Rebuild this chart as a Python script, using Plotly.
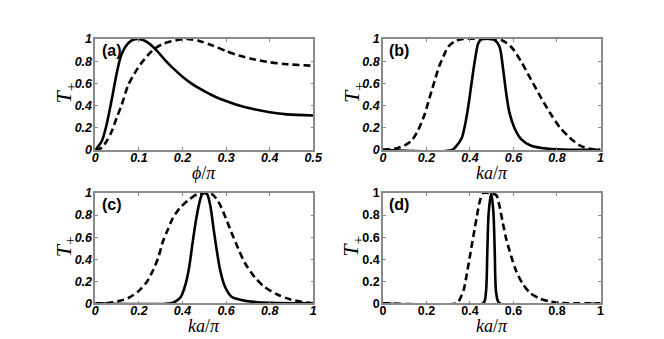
import plotly.graph_objects as go

# ---- data ----
a_solid_x = [0, 0.015, 0.026, 0.038, 0.049, 0.06, 0.075, 0.088, 0.1, 0.12, 0.14, 0.16, 0.18, 0.2, 0.22, 0.25, 0.28, 0.3, 0.33, 0.36, 0.4, 0.44, 0.5]
a_solid_y = [0, 0.08, 0.23, 0.46, 0.69, 0.86, 0.96, 0.995, 1.0, 0.97, 0.90, 0.81, 0.73, 0.66, 0.60, 0.53, 0.47, 0.44, 0.40, 0.37, 0.34, 0.32, 0.31]
a_dash_x = [0, 0.015, 0.026, 0.038, 0.049, 0.06, 0.075, 0.09, 0.105, 0.12, 0.135, 0.158, 0.188, 0.21, 0.24, 0.27, 0.3, 0.33, 0.36, 0.4, 0.44, 0.5]
a_dash_y = [0, 0.02, 0.08, 0.17, 0.29, 0.40, 0.58, 0.69, 0.78, 0.85, 0.91, 0.96, 0.99, 1.0, 0.98, 0.94, 0.89, 0.85, 0.82, 0.79, 0.772, 0.758]

b_solid_x = [0, 0.318, 0.34, 0.363, 0.378, 0.393, 0.408, 0.423, 0.438, 0.453, 0.49, 0.514, 0.536, 0.551, 0.566, 0.581, 0.604, 0.634, 0.679, 0.737, 0.83, 1.0]
b_solid_y = [0, 0, 0.04, 0.11, 0.23, 0.40, 0.61, 0.81, 0.96, 1.0, 1.0, 0.99, 0.93, 0.75, 0.52, 0.34, 0.20, 0.10, 0.04, 0.015, 0.003, 0]
b_dash_x = [0, 0.055, 0.1, 0.13, 0.16, 0.19, 0.213, 0.236, 0.258, 0.28, 0.30, 0.333, 0.37, 0.45, 0.544, 0.589, 0.634, 0.679, 0.724, 0.769, 0.814, 0.859, 0.904, 0.949, 1.0]
b_dash_y = [0, 0.01, 0.04, 0.08, 0.17, 0.31, 0.46, 0.61, 0.75, 0.85, 0.93, 0.98, 1.0, 1.0, 0.99, 0.93, 0.80, 0.64, 0.48, 0.33, 0.20, 0.11, 0.04, 0.01, 0]

c_solid_x = [0, 0.348, 0.37, 0.393, 0.415, 0.43, 0.445, 0.46, 0.475, 0.49, 0.5, 0.513, 0.528, 0.543, 0.558, 0.573, 0.595, 0.625, 0.67, 0.745, 1.0]
c_solid_y = [0, 0, 0.02, 0.06, 0.18, 0.32, 0.53, 0.73, 0.89, 0.99, 1.0, 0.99, 0.88, 0.67, 0.47, 0.30, 0.15, 0.06, 0.03, 0.01, 0]
c_dash_x = [0, 0.048, 0.108, 0.153, 0.198, 0.235, 0.265, 0.288, 0.31, 0.333, 0.355, 0.386, 0.423, 0.468, 0.5, 0.535, 0.565, 0.595, 0.625, 0.655, 0.685, 0.73, 0.775, 0.835, 0.895, 0.955, 1.0]
c_dash_y = [0, 0.0, 0.02, 0.05, 0.11, 0.19, 0.30, 0.41, 0.56, 0.67, 0.77, 0.86, 0.93, 0.99, 1.0, 0.99, 0.92, 0.79, 0.64, 0.50, 0.37, 0.24, 0.15, 0.08, 0.035, 0.01, 0]

d_solid_x = [0, 0.461, 0.473, 0.48, 0.486, 0.498, 0.508, 0.514, 0.521, 0.536, 1.0]
d_solid_y = [0, 0, 0.09, 0.47, 0.82, 1.0, 0.82, 0.47, 0.09, 0, 0]
d_dash_x = [0, 0.34, 0.349, 0.371, 0.386, 0.401, 0.416, 0.431, 0.446, 0.461, 0.49, 0.521, 0.536, 0.551, 0.566, 0.589, 0.611, 0.641, 0.679, 0.724, 0.77, 0.82, 1.0]
d_dash_y = [0, 0, 0.02, 0.12, 0.27, 0.44, 0.61, 0.78, 0.93, 1.0, 1.0, 0.98, 0.88, 0.73, 0.59, 0.43, 0.30, 0.18, 0.09, 0.04, 0.015, 0.003, 0]

y_ticks = [0, 0.2, 0.4, 0.6, 0.8, 1]
y_labels = ["0", "0.2", "0.4", "0.6", "0.8", "1"]
xa_ticks = [0, 0.1, 0.2, 0.3, 0.4, 0.5]
xa_labels = ["0", "0.1", "0.2", "0.3", "0.4", "0.5"]
xk_ticks = [0, 0.2, 0.4, 0.6, 0.8, 1]
xk_labels = ["0", "0.2", "0.4", "0.6", "0.8", "1"]
panel_labels = ["(a)", "(b)", "(c)", "(d)"]

W, H = 664, 339

# ---- layout geometry (pixels) ----
panels = [
    # x0, x1, ytop, ybot
    (86, 308.3, 25, 140.7),
    (379.3, 601.3, 25, 140.7),
    (86, 308.3, 185.7, 300.7),
    (379.3, 601.3, 185.7, 300.7),
]
series = [
    (a_solid_x, a_solid_y, a_dash_x, a_dash_y),
    (b_solid_x, b_solid_y, b_dash_x, b_dash_y),
    (c_solid_x, c_solid_y, c_dash_x, c_dash_y),
    (d_solid_x, d_solid_y, d_dash_x, d_dash_y),
]

fig = go.Figure()
sans = "Liberation Sans, Arial, sans-serif"
serif = "Liberation Serif, Times New Roman, serif"

for i, (p, s) in enumerate(zip(panels, series)):
    n = "" if i == 0 else str(i + 1)
    xr = "x" + n
    yr = "y" + n
    sx, sy, dx, dy = s
    fig.add_trace(go.Scatter(x=dx, y=dy, mode="lines", xaxis=xr, yaxis=yr,
                             line=dict(color="black", width=2.6, dash="7px,4px", shape="spline", smoothing=0.8),
                             showlegend=False, hoverinfo="skip"))
    fig.add_trace(go.Scatter(x=sx, y=sy, mode="lines", xaxis=xr, yaxis=yr,
                             line=dict(color="black", width=2.6, shape="spline", smoothing=0.8),
                             showlegend=False, hoverinfo="skip"))
    x0, x1, yt, yb = p
    italic = "normal" if i == 3 else "italic"
    tf = dict(family=sans, size=12.5, color="black", weight="bold", style=italic)
    if i == 0:
        xt, xl, xrng = xa_ticks, xa_labels, [0, 0.5]
    else:
        xt, xl, xrng = xk_ticks, xk_labels, [0, 1]
    common = dict(showline=True, linecolor="#8a8a8a", linewidth=1.5, mirror="ticks",
                  ticks="inside", ticklen=3, tickcolor="#8a8a8a", tickwidth=1,
                  showgrid=False, zeroline=False, tickfont=tf, fixedrange=True)
    fig.layout["xaxis" + n] = dict(domain=[x0 / W, x1 / W], range=xrng, tickvals=xt, ticktext=xl,
                                   anchor=yr, ticklabelstandoff=-5, **common)
    fig.layout["yaxis" + n] = dict(domain=[1 - yb / H, 1 - yt / H], range=[0, 1], tickvals=y_ticks,
                                   ticktext=y_labels, anchor=xr, ticklabelstandoff=-1, **common)
    # panel label
    fig.add_annotation(x=0.02, y=0.99, xref=xr + " domain", yref=yr + " domain",
                       text="<b>%s</b>" % panel_labels[i], showarrow=False,
                       xanchor="left", yanchor="top",
                       font=dict(family=sans, size=16, color="black"))
    # y title
    fig.add_annotation(x=(x0 - 31) / W, y=1 - ((yt + yb) / 2 - 2) / H, xref="paper", yref="paper",
                       text="<i>T</i><sub>+</sub>", textangle=-90, showarrow=False,
                       xanchor="center", yanchor="middle",
                       font=dict(family=serif, size=22, color="black"))
    # x title
    xtitle = "<i>ϕ</i>/<i>π</i>" if i == 0 else "<i>ka</i>/<i>π</i>"
    fig.add_annotation(x=((x0 + x1) / 2) / W, y=1 - (yb + 24) / H, xref="paper", yref="paper",
                       text=xtitle, showarrow=False, xanchor="center", yanchor="middle",
                       font=dict(family=serif, size=18, color="black"))

fig.update_layout(width=W, height=H, margin=dict(l=0, r=0, t=0, b=0),
                  paper_bgcolor="white", plot_bgcolor="white", showlegend=False)

fig.write_html("out.html")
